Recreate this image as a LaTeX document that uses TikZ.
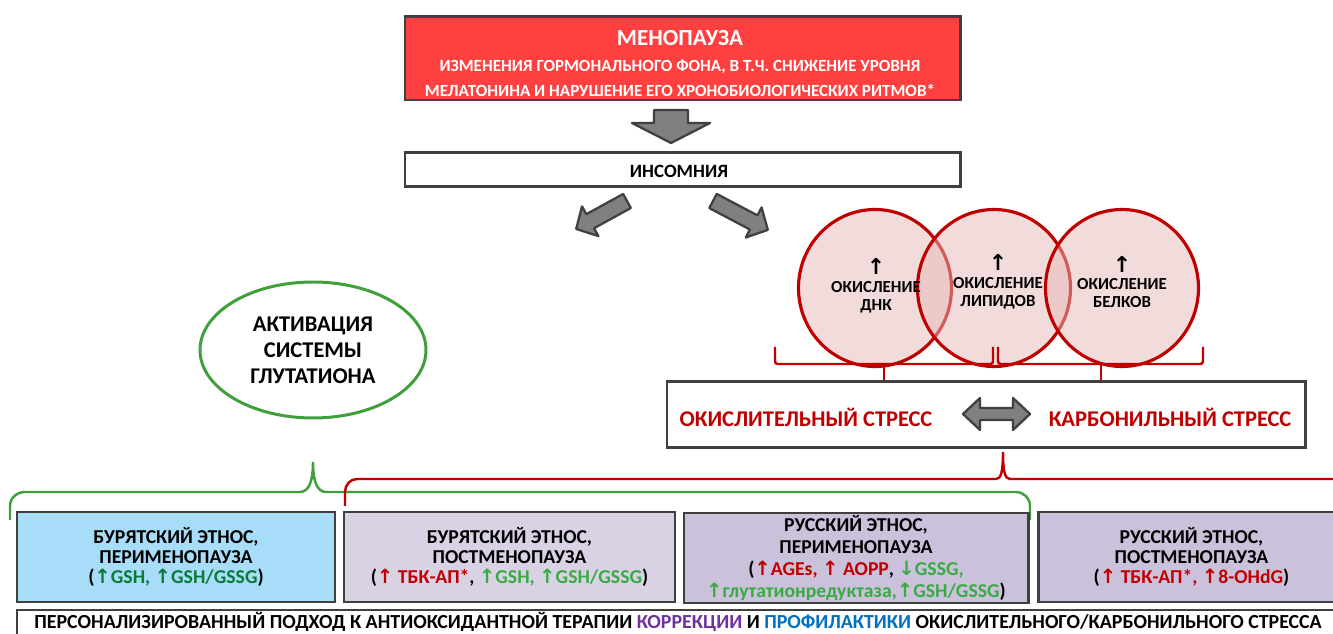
\documentclass[tikz,border=0pt]{standalone}
\usepackage{fontspec}
\setmainfont{Carlito}
\newfontfamily\arrowfont{DejaVu Sans}
\usetikzlibrary{shapes.geometric}

\definecolor{menored}{HTML}{FF4040}
\definecolor{boxgray}{HTML}{404040}
\definecolor{arrowgray}{HTML}{808080}
\definecolor{stressred}{HTML}{C00000}
\definecolor{circlefill}{HTML}{E6B8B7}
\definecolor{glutgreen}{HTML}{3F9F3A}
\definecolor{textgreen}{HTML}{3AAA45}
\definecolor{darkgreen}{HTML}{0A7A3A}
\definecolor{buryblue}{HTML}{A7DDF8}
\definecolor{burylilac}{HTML}{D9D2E4}
\definecolor{ruslilac}{HTML}{CCC1DA}
\definecolor{corrpurple}{HTML}{7030A0}
\definecolor{profblue}{HTML}{0070C0}

\newlength{\pxu}
\setlength{\pxu}{0.02cm}
\newcommand{\uarr}{{\arrowfont\bfseries ↑}}
\newcommand{\darr}{{\arrowfont\bfseries ↓}}
\newcommand{\circarr}{{\arrowfont\fontsize{12.5}{10}\selectfont ↑}}

\tikzset{
  framebox/.style={draw=boxgray, line width=1.7pt, inner sep=0pt, align=center},
  boxtext/.style={font=\bfseries\fontsize{11.2}{11.4}\selectfont},
  oxcircle/.style={ellipse, draw=stressred, line width=1.8pt, fill=circlefill,
    fill opacity=0.5, minimum width=153*\pxu, minimum height=157*\pxu},
  circtext/.style={align=center, font=\bfseries\fontsize{9.6}{10.2}\selectfont},
  stresstext/.style={text=stressred, font=\bfseries\fontsize{12.8}{15}\selectfont},
  redbrace/.style={draw=stressred, line width=1.4pt, rounded corners=1.5pt},
  greenbrace/.style={draw=glutgreen, line width=1.4pt},
  arrowbody/.style={fill=arrowgray, draw=boxgray, line width=1.3pt, line join=round},
  pics/fatarrow/.style n args={4}{code={%
    \draw[arrowbody] (0,-#2) -- (#1-#4,-#2) -- (#1-#4,-#3) -- (#1,0)
      -- (#1-#4,#3) -- (#1-#4,#2) -- (0,#2) -- cycle;}},
  pics/dblarrow/.style n args={4}{code={%
    \draw[arrowbody] (0,0) -- (#4,-#3) -- (#4,-#2) -- (#1-#4,-#2) -- (#1-#4,-#3)
      -- (#1,0) -- (#1-#4,#3) -- (#1-#4,#2) -- (#4,#2) -- (#4,#3) -- cycle;}},
}

\begin{document}
\begin{tikzpicture}[x=0.02cm, y=-0.02cm]
    \useasboundingbox (0,0) rectangle (1333,634);

    % Menopause
    \node[framebox, fill=menored, minimum width=555*\pxu, minimum height=83*\pxu] (meno) at (682.5,58.5) {};
    \node[text=white, font=\bfseries\fontsize{13.1}{15}\selectfont] (menotitle) at (680,38.5) {МЕНОПАУЗА};
    \node[text=white, align=center, font=\bfseries\fontsize{9.7}{14.2}\selectfont] (menotext) at (680,78)
        {ИЗМЕНЕНИЯ ГОРМОНАЛЬНОГО ФОНА, В Т.Ч. СНИЖЕНИЕ УРОВНЯ\\МЕЛАТОНИНА И НАРУШЕНИЕ ЕГО ХРОНОБИОЛОГИЧЕСКИХ РИТМОВ*};
    \pic[rotate=-90] at (671,110) {fatarrow={33}{17}{39}{20}};

    % Insomnia
    \node[framebox, fill=white, minimum width=555*\pxu, minimum height=34*\pxu] (insom) at (682.5,169.5) {};
    \node[font=\bfseries\fontsize{10.7}{13}\selectfont] (insomtext) at (679,171) {ИНСОМНИЯ};
    \pic[rotate=-151.2] at (627,201) {fatarrow={58}{8}{17}{16}};
    \pic[rotate=-27.8] at (713,201) {fatarrow={62}{8}{17}{16}};

    % Oxidation circles
    \node[oxcircle] (dna) at (875,288) {};
    \node[oxcircle] (lip) at (994,288) {};
    \node[oxcircle] (prot) at (1122,288) {};
    \node[circtext] (dnatext) at (876,286) {\circarr\\ОКИСЛЕНИЕ\\ДНК};
    \node[circtext] (liptext) at (998,282) {\circarr\\ОКИСЛЕНИЕ\\ЛИПИДОВ};
    \node[circtext] (prottext) at (1122,282) {\circarr\\ОКИСЛЕНИЕ\\БЕЛКОВ};

    % Stress
    \node[framebox, fill=white, minimum width=638*\pxu, minimum height=66*\pxu] (stress) at (986,414.5) {};
    \node[stresstext] (oxstress) at (806,417) {ОКИСЛИТЕЛЬНЫЙ СТРЕСС};
    \node[stresstext] (carbstress) at (1170,417) {КАРБОНИЛЬНЫЙ СТРЕСС};
    \pic at (963,414) {dblarrow={67}{6}{16}{17}};

    \coordinate (dnab) at (884,364);
    \coordinate (protb) at (1101,364);
    \draw[redbrace] (775,347) -- (775,364) -- (993,364) -- (993,347);
    \draw[redbrace] (998,347) -- (998,364) -- (1203,364) -- (1203,347);
    \draw[redbrace] (dnab) -- (dnab |- stress.north);
    \draw[redbrace] (protb) -- (protb |- stress.north);

    % Glutathione
    \node[ellipse, draw=glutgreen, line width=1.7pt, minimum width=226*\pxu, minimum height=136*\pxu,
        align=center, font=\bfseries\fontsize{12.8}{14.7}\selectfont] (glut) at (313,350)
        {АКТИВАЦИЯ\\СИСТЕМЫ\\ГЛУТАТИОНА};

    % Braces
    \draw[greenbrace] (10,520) -- (10,506) to[out=90, in=180] (25,492) -- (300,492)
        .. controls (309,492) and (313,481) .. (313,462)
        .. controls (313,481) and (317,492) .. (326,492) -- (1016,492)
        to[out=0, in=90] (1030,506) -- (1030,520);
    \draw[redbrace, rounded corners=0pt] (345,506) -- (345,492) to[out=90, in=180] (357,479) -- (996,479)
        .. controls (1001,479) and (1003,472) .. (1003,452)
        .. controls (1003,472) and (1005,479) .. (1010,479) -- (1345,479);

    % Groups
    \node[framebox, boxtext, fill=buryblue, minimum width=318*\pxu, minimum height=90*\pxu] (buryperi) at (176,557)
        {БУРЯТСКИЙ ЭТНОС,\\ПЕРИМЕНОПАУЗА\\(\textcolor{darkgreen}{\uarr GSH, \uarr GSH/GSSG})};
    \node[framebox, boxtext, fill=burylilac, minimum width=331*\pxu, minimum height=90*\pxu] (burypost) at (509.5,557)
        {БУРЯТСКИЙ ЭТНОС,\\ПОСТМЕНОПАУЗА\\(\textcolor{stressred}{\uarr{} ТБК-АП*}, \textcolor{textgreen}{\uarr GSH, \uarr GSH/GSSG})};
    \node[framebox, fill=ruslilac, minimum width=344*\pxu, minimum height=90*\pxu,
        font=\bfseries\fontsize{11.2}{12.6}\selectfont] (rusperi) at (856,558)
        {РУССКИЙ ЭТНОС,\\ПЕРИМЕНОПАУЗА\\(\textcolor{stressred}{\uarr AGEs, \uarr{} AOPP}, \textcolor{textgreen}{\darr GSSG,}\\\textcolor{textgreen}{\uarr глутатионредуктаза,\uarr GSH/GSSG})};
    \node[framebox, boxtext, fill=ruslilac, minimum width=307*\pxu, minimum height=90*\pxu] (ruspost) at (1191.5,557)
        {РУССКИЙ ЭТНОС,\\ПОСТМЕНОПАУЗА\\(\textcolor{stressred}{\uarr{} ТБК-АП*, \uarr 8-OHdG})};

    % Conclusion
    \node[framebox, fill=white, minimum width=1328*\pxu, minimum height=40*\pxu] (approach) at (681,630) {};
    \node[font=\bfseries\fontsize{11.35}{13}\selectfont] (approachtext) at (678,622)
        {ПЕРСОНАЛИЗИРОВАННЫЙ ПОДХОД К АНТИОКСИДАНТНОЙ ТЕРАПИИ \textcolor{corrpurple}{КОРРЕКЦИИ} И \textcolor{profblue}{ПРОФИЛАКТИКИ} ОКИСЛИТЕЛЬНОГО/КАРБОНИЛЬНОГО СТРЕССА};
\end{tikzpicture}
\end{document}
